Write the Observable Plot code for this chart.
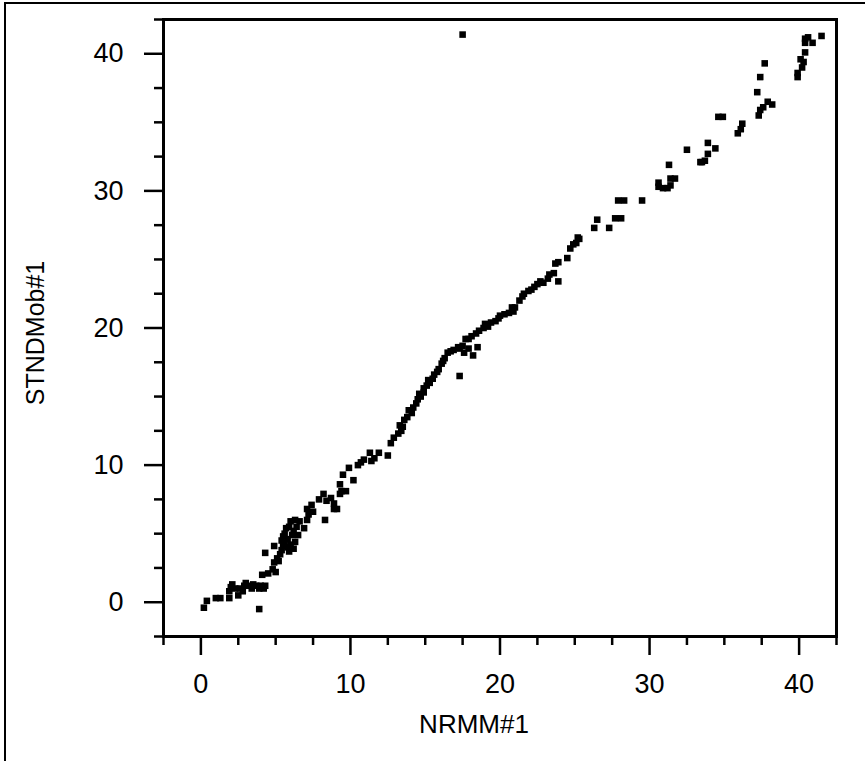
<!DOCTYPE html>
<html>
<head>
<meta charset="utf-8">
<script src="https://cdn.jsdelivr.net/npm/d3@7"></script>
<script src="https://cdn.jsdelivr.net/npm/@observablehq/plot@0.6"></script>
<style>
  html, body { margin: 0; padding: 0; background: white; }
  #wrap { position: relative; width: 865px; height: 761px; overflow: hidden; }
  #border { position: absolute; left: 4px; top: 2px; width: 900px; height: 800px;
            border-left: 2px solid black; border-top: 2px solid black; pointer-events: none; }
  #chart { position: absolute; left: 0; top: 0; }
</style>
</head>
<body>
<div id="wrap"><div id="chart"></div><div id="border"></div></div>
<script>
const xLabel = "NRMM#1";
const yLabel = "STNDMob#1";
const majorTicks = [0, 10, 20, 30, 40];
const minorTicks = [-2.5, 2.5, 5, 7.5, 12.5, 15, 17.5, 22.5, 25, 27.5, 32.5, 35, 37.5, 42.5];

const nrmm = [
  0.2, 0.4, 1.0, 1.3, 1.9, 1.9, 2.0, 2.1, 2.3, 2.5, 2.6, 2.8, 2.9, 3.0, 3.2, 3.4, 3.5, 3.7, 3.9, 4.0,
  4.2, 4.3, 3.9, 4.1, 4.5, 4.3, 4.8, 4.9, 5.0, 5.1, 5.3, 5.4, 5.5, 5.6, 4.9, 5.2, 5.5, 5.7, 5.9, 6.0,
  6.1, 6.2, 6.3, 5.9, 5.8, 6.5, 6.6, 6.9, 7.1, 7.2, 7.1, 7.4, 7.5, 7.9, 8.2, 8.4, 8.7, 8.9, 9.1, 8.3,
  8.9, 9.3, 9.3, 9.4, 9.7, 9.5, 10.2, 9.9, 10.5, 10.7, 10.9, 11.3, 11.4, 11.9, 11.6, 12.5, 12.7, 12.9, 13.2, 13.4,
  13.5, 13.6, 13.8, 14.1, 14.2, 14.4, 14.5, 14.7, 14.9, 14.9, 15.1, 15.3, 15.5, 15.6, 15.9, 16.1, 16.3, 16.5, 16.7, 16.9,
  17.2, 17.5, 17.6, 17.3, 17.9, 17.9, 18.2, 17.3, 17.7, 18.1, 18.4, 18.6, 18.9, 19.2, 19.4, 19.7, 19.9, 20.3, 20.6, 20.9,
  21.0, 21.3, 21.5, 21.9, 22.1, 22.5, 22.9, 23.2, 23.3, 23.6, 23.9, 23.7, 23.9, 24.5, 24.7, 24.9, 25.1, 25.3, 25.2, 26.3,
  26.5, 27.3, 27.7, 28.1, 27.9, 28.3, 29.5, 30.6, 30.6, 30.9, 31.2, 31.4, 31.4, 31.7, 31.3, 32.5, 33.4, 33.5, 33.7, 33.9,
  33.9, 34.4, 34.6, 34.9, 35.9, 36.1, 36.2, 37.2, 37.3, 37.4, 37.6, 37.9, 38.2, 37.4, 37.7, 39.9, 39.9, 40.2, 40.3, 40.1,
  40.4, 40.4, 40.4, 40.6, 40.9, 41.5, 17.5,
  5.6, 6.0, 6.4, 6.2, 5.4, 5.8, 6.3, 13.9, 14.6, 15.2, 15.8, 16.2, 13.3, 19.0, 20.0, 20.8, 21.6, 22.3, 22.7, 18.5
];
const stndmob = [
  -0.4, 0.1, 0.3, 0.3, 0.3, 0.8, 1.1, 1.3, 1.0, 0.5, 1.0, 0.8, 1.2, 1.4, 1.2, 1.0, 1.3, 1.2, 1.0, 1.2,
  1.0, 1.2, -0.5, 2.0, 2.1, 3.6, 2.4, 2.9, 2.2, 3.2, 3.5, 3.8, 4.1, 4.3, 4.1, 3.0, 4.8, 5.4, 3.7, 4.2,
  4.9, 3.9, 4.4, 5.5, 4.6, 4.9, 5.9, 5.4, 6.0, 6.4, 6.8, 7.1, 6.6, 7.5, 7.9, 7.4, 7.6, 6.8, 6.8, 6.0,
  7.2, 7.9, 8.6, 8.1, 8.1, 9.3, 8.9, 9.8, 10.0, 10.2, 10.4, 10.9, 10.3, 10.9, 10.5, 10.7, 11.6, 12.0, 12.3, 12.5,
  12.8, 13.3, 13.5, 13.8, 14.2, 14.5, 14.8, 15.0, 15.3, 15.6, 15.8, 16.0, 16.3, 16.6, 17.0, 17.4, 17.8, 18.2, 18.3, 18.4,
  18.6, 18.7, 18.2, 16.5, 19.2, 18.5, 18.0, 18.5, 19.2, 19.4, 19.6, 19.8, 20.0, 20.1, 20.4, 20.5, 20.7, 21.0, 21.1, 21.2,
  21.5, 22.0, 22.3, 22.7, 22.8, 23.2, 23.3, 23.6, 23.9, 24.0, 23.4, 24.7, 24.8, 25.1, 25.8, 26.1, 26.2, 26.5, 26.6, 27.3,
  27.9, 27.3, 28.0, 28.0, 29.3, 29.3, 29.3, 30.6, 30.3, 30.2, 30.2, 30.4, 30.9, 30.9, 31.9, 33.0, 32.1, 32.1, 32.2, 32.7,
  33.5, 33.1, 35.4, 35.4, 34.2, 34.5, 34.9, 37.2, 35.5, 35.9, 36.1, 36.5, 36.3, 38.3, 39.3, 38.3, 38.6, 39.0, 39.4, 39.6,
  40.1, 40.8, 41.1, 41.2, 40.8, 41.3, 41.4,
  5.0, 5.9, 5.5, 5.2, 4.5, 4.0, 6.0, 14.0, 15.2, 16.2, 16.8, 17.6, 12.9, 20.3, 20.9, 21.5, 22.5, 23.0, 23.4, 18.6
];

const points = nrmm.map((x, i) => ({x, y: stndmob[i]}));

const chart = Plot.plot({
  width: 865,
  height: 761,
  marginLeft: 163,
  marginRight: 29,
  marginTop: 19,
  marginBottom: 125,
  x: {domain: [-2.5, 42.5]},
  y: {domain: [-2.5, 42.5]},
  style: {fontFamily: "'Liberation Sans', Arial, sans-serif", background: "transparent", color: "black"},
  marks: [
    Plot.axisX({ticks: minorTicks, tickSize: 9, tickFormat: () => "", strokeWidth: 2.5, label: null}),
    Plot.axisX({ticks: majorTicks, tickSize: 19, tickPadding: 18, fontSize: 27, strokeWidth: 2.5, label: null}),
    Plot.axisY({ticks: minorTicks, tickSize: 9, tickFormat: () => "", strokeWidth: 2.5, label: null}),
    Plot.axisY({ticks: majorTicks, tickSize: 19, tickPadding: 21, fontSize: 27, strokeWidth: 2.5, label: null}),
    Plot.dot(points, {x: "x", y: "y", symbol: "square", r: 3.7, fill: "black", stroke: null}),
    Plot.frame({stroke: "black", strokeWidth: 3}),
    Plot.text([xLabel], {frameAnchor: "bottom", textAnchor: "middle", dy: 96, dx: -26, fontSize: 26, fill: "black"}),
    Plot.text([yLabel], {frameAnchor: "left", textAnchor: "middle", dx: -128, dy: 5, rotate: -90, fontSize: 25, fill: "black"})
  ]
});
document.getElementById("chart").appendChild(chart);
</script>
</body>
</html>
